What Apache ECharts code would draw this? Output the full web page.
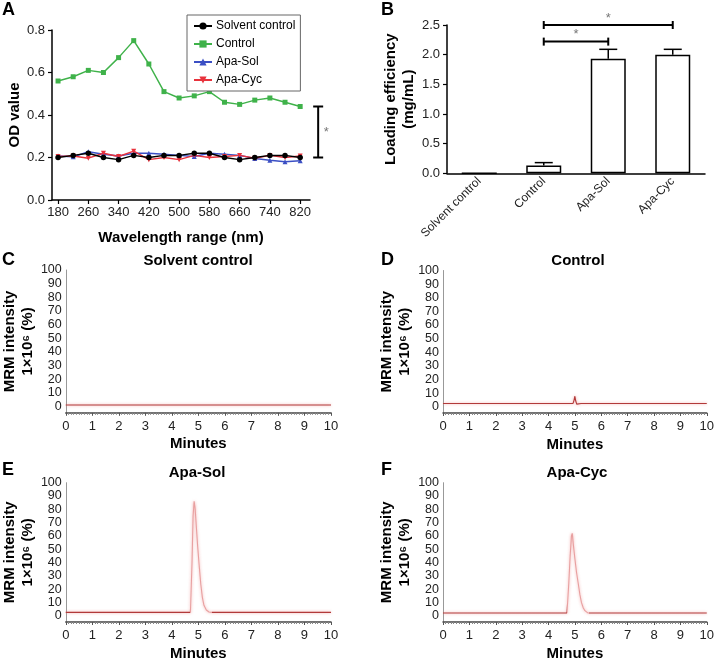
<!DOCTYPE html>
<html><head><meta charset="utf-8">
<script src="https://cdn.jsdelivr.net/npm/echarts@6/dist/echarts.min.js"></script>
<style>html,body{margin:0;padding:0;background:#fff}#c{width:717px;height:662px}</style>
</head><body><div id="c"></div>
<script>
const FONT = '"Liberation Sans", Arial, Helvetica, sans-serif';

// ---------- Panel A: OD spectra ----------
const wavelengths = [180,220,260,300,340,380,420,460,500,540,580,620,660,700,740,780,820];
const wavelengthTicks = [180,260,340,420,500,580,660,740,820];
const odSolventControl = [0.20,0.21,0.22,0.20,0.19,0.21,0.20,0.21,0.21,0.22,0.22,0.20,0.19,0.20,0.21,0.21,0.20];
const odControl        = [0.56,0.58,0.61,0.60,0.67,0.75,0.64,0.51,0.48,0.49,0.51,0.46,0.45,0.47,0.48,0.46,0.44];
const odApaSol         = [0.207,0.203,0.227,0.215,0.207,0.22,0.22,0.215,0.21,0.205,0.22,0.215,0.21,0.195,0.187,0.18,0.185];
const odApaCyc         = [0.205,0.207,0.197,0.22,0.205,0.23,0.19,0.20,0.19,0.21,0.20,0.205,0.21,0.196,0.21,0.20,0.207];
const seriesNamesA = ['Solvent control','Control','Apa-Sol','Apa-Cyc'];

// ---------- Panel B: loading efficiency ----------
const loadCategories = ['Solvent control','Control','Apa-Sol','Apa-Cyc'];
const loadMean = [0, 0.13, 1.93, 2.0];
const loadErr  = [0, 0.05, 0.16, 0.09];
const sigPairsB = [[1,3],[1,2]];
const sigLevelsB = [2.5, 2.22];

// ---------- Panels C-F: MRM chromatograms (time min, intensity %) ----------
const minuteTicks = [0,1,2,3,4,5,6,7,8,9,10];
const mrmTicks = [0,10,20,30,40,50,60,70,80,90,100];
const cBaseline = 1.2;
const cSpikes = [[0.54,0.8],[0.79,1],[0.85,0.8],[1.04,0.7],[1.22,0.7],[2.47,0.8],[2.78,1],[2.97,0.7],[3.78,0.8],[5.34,0.7],[5.66,0.8],[5.84,0.7],[5.97,0.8],[6.22,0.7],[6.59,1],[7.03,0.8],[7.22,0.7],[7.34,0.8],[8.09,0.7],[9.09,0.7],[9.21,0.8],[9.34,0.7],[9.52,0.8],[9.71,0.7],[9.9,0.7]];
const cPeak = [];
const dBaseline = 2.5;
const dSpikes = [[2.06,0.8],[2.75,0.7],[3.0,0.7],[3.56,1.2],[3.81,0.8],[4.44,0.7],[4.63,0.7],[4.81,0.7],[5.13,-0.3],[5.25,0.6],[5.38,-0.3],[5.56,0.6],[5.75,-0.3],[6.0,0.6],[6.13,0.6],[6.25,-0.3],[6.38,0.6],[7.0,0.7],[7.13,0.8],[7.56,1],[7.63,-0.3],[8.25,0.6],[8.63,0.7],[8.81,0.8],[9.06,0.6],[9.44,0.8],[9.81,0.7],[9.94,0.6]];
const dPeak = [[4.93,2.5],[4.97,5.0],[5.0,7.8],[5.03,4.5],[5.07,2.0],[5.1,2.5]];
const eBaseline = 2.7;
const eSpikes = [[0.4,0.6],[0.78,0.8],[1.34,-0.5],[2.09,0.8],[2.34,0.6],[2.59,0.6],[2.84,1.0],[3.21,0.6],[3.59,0.7],[3.84,0.6],[4.46,1.2],[5.84,0.6],[6.09,0.6],[7.4,0.6],[7.84,1.0],[8.21,0.6],[8.59,0.6],[9.09,0.6],[9.52,1.2]];
const ePeak = [[4.70,2.7],[4.72,4],[4.76,40],[4.80,75],[4.84,86],[4.88,80],[4.93,65],[4.97,53],[5.03,38],[5.09,24],[5.15,14],[5.21,8],[5.30,4.5],[5.40,3.0],[5.50,2.7]];
const fBaseline = 2.2;
const fSpikes = [];
const fPeak = [[4.70,2.2],[4.72,3],[4.77,25],[4.82,45],[4.87,60],[4.90,62],[4.95,52],[5.0,43],[5.06,33],[5.13,24],[5.19,16],[5.25,10],[5.32,6],[5.38,4],[5.45,2.8],[5.50,2.2]];

function buildTrace(base, spikes, peak) {
  const pts = [[0, base],[10, base]];
  spikes.forEach(s => { pts.push([s[0]-0.015, base],[s[0], base + s[1]],[s[0]+0.015, base]); });
  peak.forEach(p => pts.push(p));
  pts.sort((a,b) => a[0]-b[0]);
  return pts;
}

const chart = echarts.init(document.getElementById('c'), null, {renderer:'canvas'});

const grids = [
  {left:52, top:30, width:258, height:170},        // A
  {left:447, top:25, width:258, height:148.3},     // B
  {left:64, top:270, width:267, height:142.8},     // C
  {left:443, top:270.5, width:267, height:142.5},  // D
  {left:64, top:482.7, width:267, height:142.4},   // E
  {left:443, top:482.7, width:267, height:142.4}   // F
];

const blackAxis = {lineStyle:{color:'#000', width:1.5}};
const lbl = (extra) => Object.assign({color:'#222', fontSize:13, fontFamily:FONT}, extra||{});
const nameStyle = {fontWeight:'bold', fontSize:15, color:'#000', fontFamily:FONT};

const xAxes = [
  {gridIndex:0, type:'value', min:164, max:846, axisLine:blackAxis,
   axisTick:{customValues:wavelengthTicks, length:4, lineStyle:{color:'#000', width:1.2}},
   axisLabel:lbl({customValues:wavelengthTicks, margin:6}), splitLine:{show:false},
   name:'Wavelength range (nm)', nameLocation:'middle', nameGap:30, nameTextStyle:nameStyle},
  {gridIndex:1, type:'category', data:loadCategories, axisLine:blackAxis,
   axisTick:{alignWithLabel:true, length:4, lineStyle:{color:'#000'}},
   axisLabel:lbl({rotate:45, fontSize:12, interval:0, margin:6})}
];
const yAxes = [
  {gridIndex:0, type:'value', min:0, max:0.8, interval:0.2, axisLine:Object.assign({show:true}, blackAxis),
   axisTick:{show:true, length:4, lineStyle:{color:'#000', width:1.2}},
   axisLabel:lbl({formatter:v=>v.toFixed(1), margin:7}), splitLine:{show:false},
   name:'OD value', nameLocation:'middle', nameGap:30, nameRotate:90, nameTextStyle:nameStyle},
  {gridIndex:1, type:'value', min:0, max:2.5, interval:0.5, axisLine:Object.assign({show:true}, blackAxis),
   axisTick:{show:true, length:4, lineStyle:{color:'#000', width:1.2}},
   axisLabel:lbl({formatter:v=>v.toFixed(1), margin:7}), splitLine:{show:false},
   name:'Loading efficiency\n(mg/mL)', nameLocation:'middle', nameGap:26, nameRotate:90,
   nameTextStyle:Object.assign({lineHeight:18}, nameStyle)}
];
for (let g = 2; g < 6; g++) {
  xAxes.push({gridIndex:g, type:'value', min:0, max:10, interval:1,
    axisLine:{onZero:false, lineStyle:{color:'#444', width:1.5}},
    axisTick:{length:3, lineStyle:{color:'#555'}},
    minorTick:{show:true, splitNumber:10, length:2, lineStyle:{color:'#888'}},
    axisLabel:lbl({margin:7}), splitLine:{show:false},
    name:'Minutes', nameLocation:'middle', nameGap:24, nameTextStyle:nameStyle});
  yAxes.push({gridIndex:g, type:'value', min:-4.5, max:100,
    axisLine:{show:true, onZero:false, lineStyle:{color:'#999', width:1}},
    axisTick:{show:false},
    axisLabel:lbl({customValues:mrmTicks, margin:4, fontSize:12.5}), splitLine:{show:false},
    name:'MRM intensity\n1×10⁶ (%)', nameLocation:'middle', nameGap:26, nameRotate:90,
    nameTextStyle:Object.assign({lineHeight:18}, nameStyle)});
}

const colorsA = ['#000000','#3fb24a','#3b4fc4','#e8323c'];
const symbolsA = ['circle','rect','triangle','triangle'];
const dataA = [odSolventControl, odControl, odApaSol, odApaCyc];
const series = [];
seriesNamesA.forEach((nm, i) => {
  series.push({name:nm, type:'line', xAxisIndex:0, yAxisIndex:0,
    data: wavelengths.map((w, j) => [w, dataA[i][j]]),
    symbol:symbolsA[i], symbolRotate: i===3 ? 180 : 0, symbolSize: i===0 ? 5.5 : 5,
    lineStyle:{color:colorsA[i], width:1.5}, itemStyle:{color:colorsA[i]},
    z: i===0 ? 5 : 3, animation:false});
});
// significance bracket for panel A (between Control and the other groups at the last wavelength)
series.push({type:'custom', xAxisIndex:0, yAxisIndex:0, clip:false, silent:true,
  data:[[wavelengths[wavelengths.length-1], odSolventControl[odSolventControl.length-1], odControl[odControl.length-1]]],
  renderItem:(params, api) => {
    const pLo = api.coord([api.value(0), api.value(1)]);
    const pHi = api.coord([api.value(0), api.value(2)]);
    const x = pLo[0] + 18;
    const st = {stroke:'#000', lineWidth:2};
    return {type:'group', children:[
      {type:'line', shape:{x1:x, y1:pLo[1], x2:x, y2:pHi[1]}, style:st},
      {type:'line', shape:{x1:x-5, y1:pLo[1], x2:x+5, y2:pLo[1]}, style:st},
      {type:'line', shape:{x1:x-5, y1:pHi[1], x2:x+5, y2:pHi[1]}, style:st},
      {type:'text', x:x+8, y:(pLo[1]+pHi[1])/2, style:{text:'*', fill:'#777', font:'13px '+FONT, align:'center', verticalAlign:'middle'}}
    ]};
  }});
// Panel B bars
series.push({type:'bar', xAxisIndex:1, yAxisIndex:1, data:loadMean, barWidth:35,
  itemStyle:{color:'#fff', borderColor:'#000', borderWidth:1.5}, animation:false});
// Panel B error bars
series.push({type:'custom', xAxisIndex:1, yAxisIndex:1, silent:true,
  data: loadMean.map((m, i) => [i, m, loadErr[i]]),
  renderItem:(params, api) => {
    const i = api.value(0), m = api.value(1), e = api.value(2);
    if (!e) return null;
    const p0 = api.coord([i, m]), p1 = api.coord([i, m + e]);
    const st = {stroke:'#000', lineWidth:1.5};
    return {type:'group', children:[
      {type:'line', shape:{x1:p0[0], y1:p0[1], x2:p1[0], y2:p1[1]}, style:st},
      {type:'line', shape:{x1:p1[0]-9, y1:p1[1], x2:p1[0]+9, y2:p1[1]}, style:st}
    ]};
  }});
// Panel B significance brackets
series.push({type:'custom', xAxisIndex:1, yAxisIndex:1, clip:false, silent:true,
  data: sigPairsB.map((p, k) => [p[0], p[1], sigLevelsB[k]]),
  renderItem:(params, api) => {
    const a = api.coord([api.value(0), api.value(2)]);
    const b = api.coord([api.value(1), api.value(2)]);
    const st = {stroke:'#000', lineWidth:2};
    return {type:'group', children:[
      {type:'line', shape:{x1:a[0], y1:a[1], x2:b[0], y2:b[1]}, style:st},
      {type:'line', shape:{x1:a[0], y1:a[1]-4, x2:a[0], y2:a[1]+4}, style:st},
      {type:'line', shape:{x1:b[0], y1:b[1]-4, x2:b[0], y2:b[1]+4}, style:st},
      {type:'text', x:(a[0]+b[0])/2, y:a[1]-7, style:{text:'*', fill:'#777', font:'13px '+FONT, align:'center', verticalAlign:'middle'}}
    ]};
  }});
// Chromatograms
const traces = [buildTrace(cBaseline,cSpikes,cPeak), buildTrace(dBaseline,dSpikes,dPeak),
                buildTrace(eBaseline,eSpikes,ePeak), buildTrace(fBaseline,fSpikes,fPeak)];
const traceStart = series.length;
traces.forEach((t, k) => {
  const ls = {width:1.1, shadowColor:'rgba(235,120,120,0.7)', shadowBlur:3};
  if (k < 2) ls.color = '#b23a3a';
  series.push({type:'line', xAxisIndex:2+k, yAxisIndex:2+k, data:t, symbol:'none', animation:false,
    lineStyle:ls});
});

const txt = (text, x, y, size, extra) => ({type:'text', x, y, z:100,
  style:Object.assign({text, fill:'#000', font:'bold '+size+'px '+FONT, align:'left', verticalAlign:'top'}, extra||{})});

const option = {
  animation:false,
  grid: grids,
  xAxis: xAxes,
  yAxis: yAxes,
  legend: {data:seriesNamesA, orient:'vertical', left:187, top:15,
    backgroundColor:'#fff', borderColor:'#666', borderWidth:1, padding:[5,5,5,6], itemGap:6,
    itemWidth:18, itemHeight:9, textStyle:{fontSize:12, color:'#000', fontFamily:FONT, padding:[0,0,0,-1]}},
  visualMap: [traceStart+2, traceStart+3].map(si => ({type:'piecewise', show:false, seriesIndex:si, dimension:0,
    pieces:[{gte:4.69, lte:5.52, color:'#e8a0a0'}], outOfRange:{color:'#b23a3a'}})),
  graphic: [
    txt('A', 2, 1, 18), txt('B', 381, 1, 18), txt('C', 2, 251, 18), txt('D', 381, 251, 18),
    txt('E', 2, 461, 18), txt('F', 381, 461, 18),
    txt('Solvent control', 198, 261, 15, {align:'center', verticalAlign:'middle'}),
    txt('Control', 578, 261, 15, {align:'center', verticalAlign:'middle'}),
    txt('Apa-Sol', 197, 473, 15, {align:'center', verticalAlign:'middle'}),
    txt('Apa-Cyc', 577, 473, 15, {align:'center', verticalAlign:'middle'})
  ],
  series
};
chart.setOption(option);
</script></body></html>
